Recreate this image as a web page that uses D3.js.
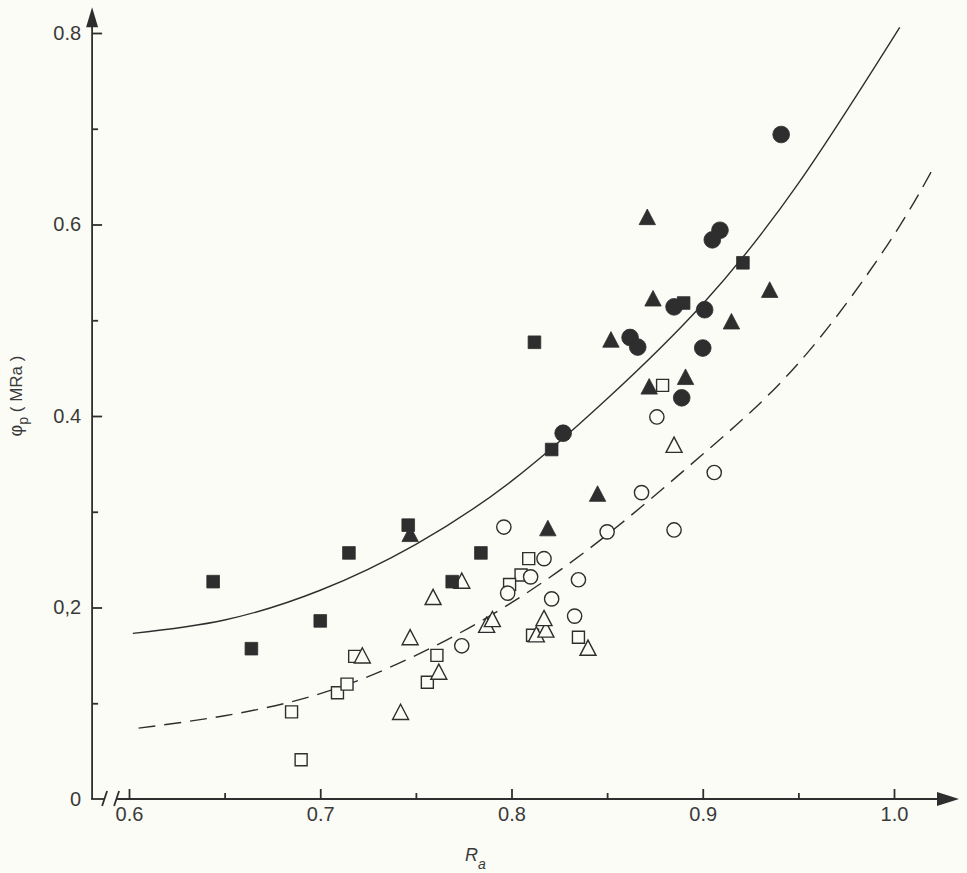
<!DOCTYPE html>
<html>
<head>
<meta charset="utf-8">
<script src="https://cdn.jsdelivr.net/npm/d3@7"></script>
<style>
  html, body { margin: 0; padding: 0; background: #fcfcf7; }
  svg { display: block; }
  text { font-family: "Liberation Sans", Arial, Helvetica, sans-serif; }
</style>
</head>
<body>
<svg id="chart" width="967" height="873"></svg>
<script>
// ---------------- data ----------------
const xTickValues = [0.6, 0.7, 0.8, 0.9, 1.0];
const xTickLabels = ["0.6", "0.7", "0.8", "0.9", "1.0"];
const xMinorTicks = [0.65, 0.75, 0.85, 0.95];
const yTickValues = [0, 0.2, 0.4, 0.6, 0.8];
const yTickLabels = ["0", "0,2", "0.4", "0.6", "0.8"];
const yMinorTicks = [0.1, 0.3, 0.5, 0.7];

// [Ra, phi_p]
const filledSquares = [
  [0.644, 0.227], [0.664, 0.157], [0.700, 0.186], [0.715, 0.257], [0.746, 0.286],
  [0.784, 0.257], [0.769, 0.227], [0.812, 0.477], [0.821, 0.365], [0.890, 0.518],
  [0.921, 0.560]
];
const filledCircles = [
  [0.827, 0.382], [0.862, 0.482], [0.866, 0.472], [0.885, 0.514], [0.901, 0.511],
  [0.900, 0.471], [0.889, 0.419], [0.905, 0.584], [0.909, 0.594], [0.941, 0.694]
];
const filledTriangles = [
  [0.747, 0.277], [0.819, 0.283], [0.845, 0.319], [0.852, 0.480], [0.871, 0.608],
  [0.874, 0.523], [0.872, 0.431], [0.891, 0.441], [0.915, 0.499], [0.935, 0.532]
];
const openSquares = [
  [0.685, 0.091], [0.690, 0.041], [0.709, 0.111], [0.714, 0.120], [0.718, 0.149],
  [0.756, 0.122], [0.761, 0.150], [0.809, 0.251], [0.805, 0.234], [0.799, 0.224],
  [0.811, 0.171], [0.835, 0.169], [0.879, 0.432]
];
const openCircles = [
  [0.796, 0.284], [0.850, 0.279], [0.817, 0.251], [0.810, 0.232], [0.798, 0.215],
  [0.835, 0.229], [0.821, 0.209], [0.833, 0.191], [0.774, 0.160], [0.876, 0.399],
  [0.868, 0.320], [0.906, 0.341], [0.885, 0.281]
];
const openTriangles = [
  [0.722, 0.150], [0.747, 0.169], [0.759, 0.211], [0.762, 0.133], [0.742, 0.091],
  [0.774, 0.228], [0.787, 0.182], [0.790, 0.188], [0.813, 0.172], [0.818, 0.177],
  [0.817, 0.189], [0.840, 0.158], [0.885, 0.370]
];

// fitted curves
const solidCurve = [
  [0.602, 0.173], [0.650, 0.187], [0.700, 0.218], [0.750, 0.266], [0.800, 0.332],
  [0.850, 0.418], [0.900, 0.517], [0.950, 0.643], [1.003, 0.806]
];
const dashedCurve = [
  [0.605, 0.074], [0.650, 0.087], [0.700, 0.110], [0.750, 0.150], [0.800, 0.205],
  [0.850, 0.276], [0.900, 0.360], [0.950, 0.455], [0.996, 0.577], [1.020, 0.657]
];

// ---------------- drawing ----------------
const svg = d3.select("#chart");
const ink = "#2e2e2e";
const textInk = "#3a3a3a";
const bg = "#fcfcf7";

const x = d3.scaleLinear().domain([0.6, 1.0]).range([129, 894]);
const y = d3.scaleLinear().domain([0, 0.8]).range([799, 33]);

const xAxisStart = 0.5807, xArrowTip = 1.034;
const yArrowTip = 0.827;
const ax0 = x(xAxisStart), ay0 = y(0);

// axis lines
const axes = svg.append("g").attr("stroke", ink).attr("stroke-width", 1.8).attr("fill", "none");
axes.append("line").attr("x1", ax0).attr("y1", ay0).attr("x2", ax0).attr("y2", y(yArrowTip) + 14);
axes.append("line").attr("x1", ax0 - 1).attr("y1", ay0).attr("x2", ax0 + 12).attr("y2", ay0);
axes.append("line").attr("x1", ax0 + 25).attr("y1", ay0).attr("x2", x(xArrowTip) - 16).attr("y2", ay0);
// break marks
axes.append("line").attr("x1", ax0 + 10).attr("y1", ay0 + 7).attr("x2", ax0 + 15).attr("y2", ay0 - 8);
axes.append("line").attr("x1", ax0 + 22).attr("y1", ay0 + 7).attr("x2", ax0 + 27).attr("y2", ay0 - 8);
// arrowheads
svg.append("path")
  .attr("d", `M${ax0},${y(yArrowTip)} L${ax0 - 6},${y(yArrowTip) + 20} L${ax0 + 6},${y(yArrowTip) + 20} Z`)
  .attr("fill", ink);
svg.append("path")
  .attr("d", `M${x(xArrowTip)},${ay0} L${x(xArrowTip) - 22},${ay0 - 7} L${x(xArrowTip) - 22},${ay0 + 7} Z`)
  .attr("fill", ink);

function styleAxis(g) {
  g.select(".domain").remove();
  g.selectAll(".tick line").attr("stroke", ink).attr("stroke-width", 1.8);
  g.selectAll(".tick text").attr("fill", textInk).attr("font-size", 20)
    .attr("font-family", "'Liberation Sans', Arial, sans-serif");
}

// y axis ticks
svg.append("g").attr("transform", `translate(${ax0},0)`)
  .call(d3.axisLeft(y).tickValues(yTickValues)
    .tickFormat((d, i) => yTickLabels[i]).tickSizeInner(-10).tickSizeOuter(0).tickPadding(11))
  .call(styleAxis)
  .call(g => g.selectAll(".tick").filter(d => d === 0).select("line").remove());
svg.append("g").attr("transform", `translate(${ax0},0)`)
  .call(d3.axisLeft(y).tickValues(yMinorTicks).tickFormat("").tickSizeInner(-6).tickSizeOuter(0))
  .call(styleAxis);

// x axis ticks
svg.append("g").attr("transform", `translate(0,${ay0})`)
  .call(d3.axisBottom(x).tickValues(xTickValues)
    .tickFormat((d, i) => xTickLabels[i]).tickSizeInner(-10).tickSizeOuter(0).tickPadding(8))
  .call(styleAxis);
svg.append("g").attr("transform", `translate(0,${ay0})`)
  .call(d3.axisBottom(x).tickValues(xMinorTicks).tickFormat("").tickSizeInner(-6).tickSizeOuter(0))
  .call(styleAxis);

// axis titles
const xt = svg.append("text").attr("x", 465).attr("y", 861)
  .attr("fill", textInk).attr("font-size", 18).attr("font-style", "italic");
xt.append("tspan").text("R");
xt.append("tspan").attr("dy", 8).attr("font-size", 14).text("a");

const yt = svg.append("text").attr("transform", "translate(22,396) rotate(-90)")
  .attr("text-anchor", "middle").attr("fill", textInk).attr("font-size", 18);
yt.append("tspan").text("φ");
yt.append("tspan").attr("dy", 6).attr("font-size", 14).text("p");
yt.append("tspan").attr("dy", -6).attr("font-size", 17).text(" ( MRa )");

// curves
const line = d3.line().x(d => x(d[0])).y(d => y(d[1])).curve(d3.curveNatural);
svg.append("path").datum(solidCurve).attr("d", line)
  .attr("fill", "none").attr("stroke", ink).attr("stroke-width", 1.4);
svg.append("path").datum(dashedCurve).attr("d", line)
  .attr("fill", "none").attr("stroke", ink).attr("stroke-width", 1.4)
  .attr("stroke-dasharray", "17,9");

// custom triangle centred on its bounding box (size = side length squared)
const boxTriangle = {
  draw(ctx, size) {
    const s = Math.sqrt(size);
    const h = s * 0.95;
    ctx.moveTo(0, -h / 2);
    ctx.lineTo(s / 2, h / 2);
    ctx.lineTo(-s / 2, h / 2);
    ctx.closePath();
  }
};

function drawMarks(data, type, size, filled) {
  svg.append("g").selectAll("path").data(data).join("path")
    .attr("transform", d => `translate(${x(d[0])},${y(d[1])})`)
    .attr("d", d3.symbol().type(type).size(size))
    .attr("fill", filled ? ink : bg)
    .attr("stroke", ink)
    .attr("stroke-width", filled ? 0.8 : 1.4);
}

drawMarks(openSquares, d3.symbolSquare, 144, false);
drawMarks(openCircles, d3.symbolCircle, 160, false);
drawMarks(openTriangles, boxTriangle, 256, false);
drawMarks(filledSquares, d3.symbolSquare, 160, true);
drawMarks(filledCircles, d3.symbolCircle, 220, true);
drawMarks(filledTriangles, boxTriangle, 270, true);
</script>
</body>
</html>
